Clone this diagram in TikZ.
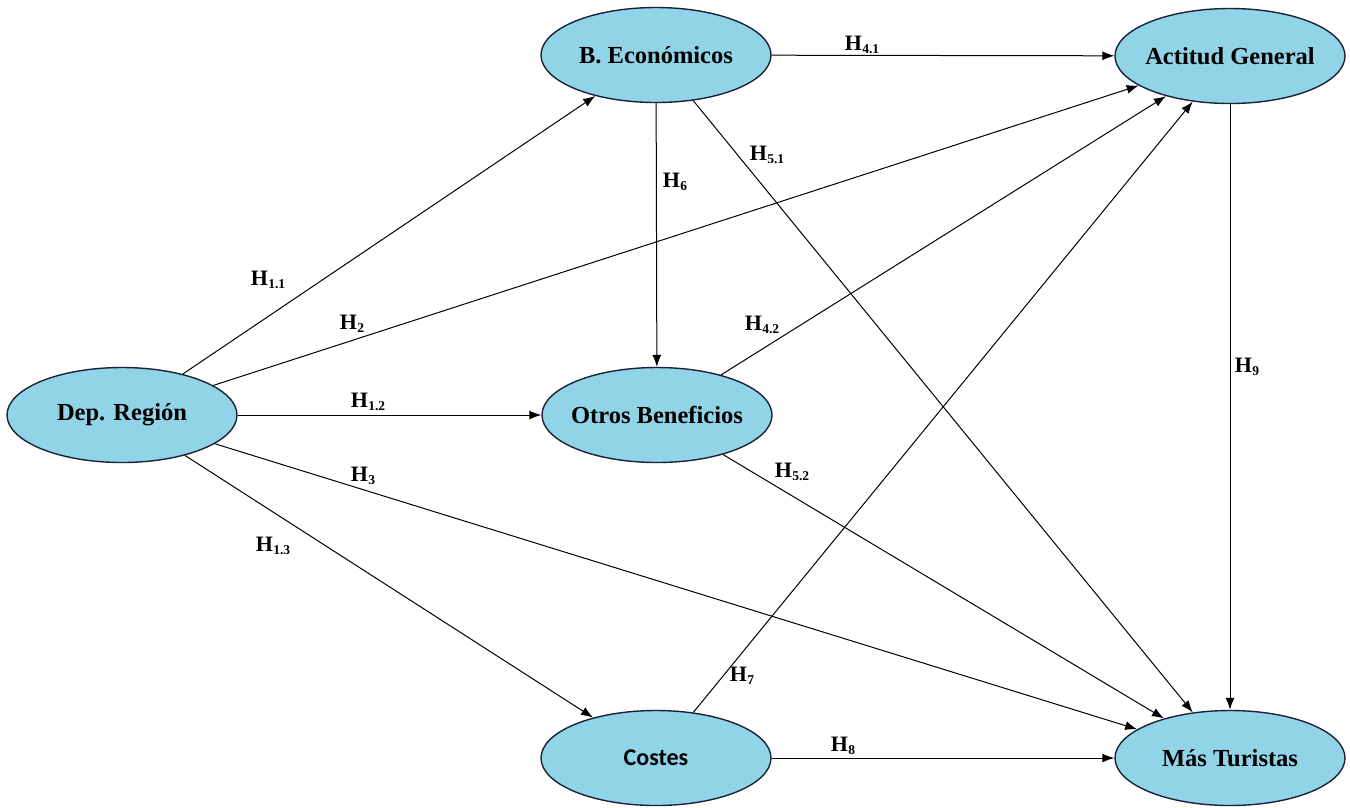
\documentclass[tikz,border=0pt]{standalone}
\usepackage{fontspec}
\setmainfont{Liberation Serif}[BoldFont={Liberation Serif Bold}]
\newfontfamily\tnrb{Liberation Serif Bold}
\newfontfamily\costesfont{Carlito}[BoldFont={Carlito Bold}]
\usetikzlibrary{arrows.meta,shapes.geometric}
\definecolor{ellfill}{RGB}{145,212,232}
\definecolor{ellline}{RGB}{25,35,55}
\newcommand\Hsub[1]{H\kern0.3pt{\fontsize{13.5}{13.5}\selectfont\raisebox{-3.5pt}{#1}}}
\newcommand\zw[1]{\makebox[0pt]{#1}}
\begin{document}
\begin{tikzpicture}[x=1pt,y=-1pt,
  construct/.style={ellipse, draw=ellline, line width=1.4pt, fill=ellfill,
    minimum width=230pt, minimum height=95pt, inner sep=0pt,
    font=\tnrb\fontsize{24.5}{24.5}\selectfont},
  hlab/.style={font=\tnrb\fontsize{22}{22}\selectfont, inner sep=0pt},
  path/.style={line width=1pt, -{Latex[length=12pt,width=9pt]}}
]
\useasboundingbox (0,0) rectangle (1350,807);
\node[construct] (be) at (656,55) {\zw{B. Económicos}};
\node[construct] (ag) at (1230,56) {\zw{Actitud General}};
\node[construct] (dr) at (122,415) {\zw{Dep. Región}};
\node[construct] (ob) at (657,415) {\zw{Otros Beneficios}};
\node[construct, font=\costesfont\bfseries\fontsize{24}{24}\selectfont] (co) at (656,758) {\zw{Costes}};
\node[construct] (mt) at (1230,758) {\zw{Más Turistas}};

\draw[path] (dr) -- (be);
\draw[path] (dr) -- (ag);
\draw[path] (dr) -- (ob);
\draw[path] (dr) -- (mt);
\draw[path] (dr) -- (co);
\draw[path] (be) -- (ag);
\draw[path] (be) -- (ob);
\draw[path] (be) -- (mt);
\draw[path] (ob) -- (ag);
\draw[path] (ob) -- (mt);
\draw[path] (co) -- (ag);
\draw[path] (co) -- (mt);
\draw[path] (ag) -- (mt);

\node[hlab] (l11) at (268,280) {\Hsub{1.1}};
\node[hlab] (l2) at (352,324) {\Hsub{2}};
\node[hlab] (l12) at (368,402) {\Hsub{1.2}};
\node[hlab] (l3) at (363,476) {\Hsub{3}};
\node[hlab] (l13) at (273,546) {\Hsub{1.3}};
\node[hlab] (l41) at (862,45) {\Hsub{4.1}};
\node[hlab] (l51) at (767,155) {\Hsub{5.1}};
\node[hlab] (l6) at (675,182) {\Hsub{6}};
\node[hlab] (l42) at (762,325) {\Hsub{4.2}};
\node[hlab] (l52) at (792,472) {\Hsub{5.2}};
\node[hlab] (l7) at (742,676) {\Hsub{7}};
\node[hlab] (l8) at (843,746) {\Hsub{8}};
\node[hlab] (l9) at (1247,367) {\Hsub{9}};
\end{tikzpicture}
\end{document}
